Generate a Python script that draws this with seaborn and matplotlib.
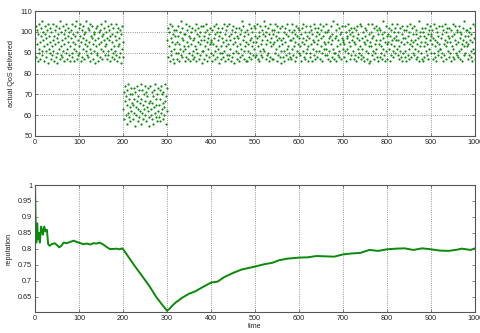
import numpy as np
import pandas as pd
import matplotlib
matplotlib.use("Agg")
import matplotlib.pyplot as plt
import seaborn as sns

# ---- data: actual QoS delivered per time step ----
qos_a = [
97,103,88,94,101,86,99,92,104,90,95,87,102,98,91,105,89,96,100,93,
86,99,103,91,88,97,94,101,85,104,92,98,90,95,102,87,100,93,89,96,
104,91,86,98,101,94,88,103,97,90,85,99,95,102,92,87,105,93,100,89,
96,88,103,91,99,86,94,101,97,90,104,92,87,98,95,102,89,100,93,86,
101,97,90,104,88,95,99,92,86,103,94,98,91,105,87,100,96,89,102,93,
90,98,104,86,95,101,88,97,92,103,99,87,94,100,91,96,105,89,93,102,
88,95,101,92,104,86,98,90,97,103,94,87,100,91,99,85,96,102,93,89,
103,90,97,86,100,94,88,101,95,104,92,98,87,99,91,96,102,89,93,105,
94,100,87,97,91,103,89,96,101,86,98,92,104,88,95,99,90,102,93,87,
98,91,104,89,96,100,86,93,102,88,97,94,101,90,85,99,92,103,95,88,
]
qos_b = [
63,71,58,67,74,60,69,56,72,65,61,75,59,68,64,70,57,73,62,66,
70,58,65,73,61,68,55,71,64,60,74,67,57,63,69,72,59,66,62,75,
56,68,72,61,65,58,70,63,74,67,60,57,71,64,69,62,73,59,66,55,
67,74,60,63,71,58,66,69,56,72,64,61,75,68,59,65,70,57,73,62,
59,65,72,68,57,74,61,70,63,66,58,71,64,60,75,67,56,69,62,73,
]
qos_c = [
96,102,88,93,100,86,104,91,97,89,103,95,87,99,92,101,85,98,94,90,
101,87,95,103,90,98,86,94,100,92,105,89,97,102,88,96,91,99,93,86,
92,99,104,88,95,101,87,93,98,90,103,86,97,94,100,89,102,91,96,87,
88,97,93,101,86,104,92,99,90,95,102,87,98,94,100,89,96,103,91,85,
103,91,98,87,96,100,93,89,104,95,86,101,92,97,88,99,94,102,90,96,
95,86,101,94,89,103,97,91,99,87,104,93,100,88,96,92,102,85,98,90,
100,93,87,97,102,90,95,88,104,91,99,86,96,101,93,89,103,94,87,98,
89,104,96,92,86,99,101,88,94,103,90,97,85,100,95,91,102,87,98,93,
97,90,102,86,99,94,88,101,92,105,89,96,103,91,87,98,93,100,86,95,
86,101,94,99,91,88,104,96,90,97,102,87,93,100,89,95,103,92,98,88,
102,95,89,104,97,87,93,100,86,98,91,103,94,89,101,96,88,99,92,105,
91,98,103,87,94,100,89,96,102,90,86,99,95,104,88,93,97,101,87,94,
99,87,95,101,90,104,92,98,86,96,103,89,100,93,97,88,102,91,85,96,
94,103,88,97,100,91,86,102,95,89,99,104,92,87,98,93,101,90,96,88,
87,96,100,92,104,89,97,93,101,86,95,99,88,103,91,98,94,102,90,97,
101,89,93,99,86,102,95,91,97,104,88,94,100,87,96,103,90,98,92,86,
93,100,97,88,103,90,94,101,86,99,92,96,104,89,95,87,102,91,98,100,
88,94,102,96,91,99,87,104,93,97,101,86,90,98,103,92,95,89,100,94,
104,92,89,100,95,87,101,97,91,98,86,103,94,99,88,96,92,105,90,87,
90,97,101,86,98,93,104,89,96,102,91,88,99,94,100,87,97,103,92,95,
96,88,94,103,91,100,86,98,92,97,104,90,95,101,87,99,93,89,102,96,
100,91,98,87,95,102,89,94,101,86,97,103,92,88,99,96,90,104,93,87,
89,103,92,97,100,88,95,86,102,94,98,91,101,87,96,104,90,93,99,85,
95,86,100,93,89,104,97,91,98,102,87,94,90,103,92,96,88,101,86,99,
102,94,88,96,101,90,93,99,87,105,92,97,89,100,95,86,103,91,98,94,
87,99,95,102,92,86,98,101,94,89,104,96,91,88,97,100,93,102,90,96,
98,92,104,89,96,100,87,93,102,91,95,88,99,86,103,97,90,94,101,88,
91,97,86,101,95,103,89,98,92,87,100,94,104,96,88,93,102,90,99,95,
103,89,96,92,99,87,101,94,88,97,91,105,86,100,93,98,90,95,102,87,
86,100,93,98,88,95,102,91,97,104,89,94,99,87,101,92,96,103,90,98,
99,94,101,87,97,90,104,93,88,96,102,86,95,100,91,98,89,103,94,92,
92,88,97,103,90,99,86,101,94,89,96,104,93,87,100,95,102,91,98,88,
97,102,90,95,86,101,93,98,104,88,92,99,87,96,103,90,94,100,89,101,
88,95,103,91,100,87,97,92,99,94,86,102,96,89,105,93,98,90,101,95,
101,93,87,98,94,100,89,96,102,91,88,99,95,86,104,92,97,90,103,87,
]
qos_time_a = list(range(1, 1 + len(qos_a)))
qos_time_b = list(range(201, 201 + len(qos_b)))
qos_time_c = list(range(301, 301 + len(qos_c)))

# ---- data: reputation over time ----
rep_time = [0, 2, 3, 5, 7, 9, 11, 14, 16, 18, 21, 24, 27, 30, 33, 38, 45, 50, 55, 60,
            65, 72, 80, 88, 95, 103, 110, 118, 125, 133, 140, 147, 155, 162, 170, 178,
            185, 192, 198, 200, 210, 225, 240, 250, 260, 275, 290, 300, 305, 310, 320,
            335, 350, 365, 380, 400, 415, 430, 450, 470, 490, 500, 520, 540, 555, 575,
            600, 620, 640, 660, 680, 700, 720, 740, 760, 780, 800, 820, 840, 860, 880,
            900, 920, 940, 960, 970, 990, 1000]
rep_value = [1.0, 0.84, 0.82, 0.88, 0.83, 0.85, 0.82, 0.87, 0.86, 0.845, 0.87, 0.855,
             0.86, 0.815, 0.81, 0.815, 0.818, 0.812, 0.805, 0.81, 0.82, 0.818, 0.822,
             0.826, 0.822, 0.818, 0.815, 0.817, 0.814, 0.818, 0.817, 0.82, 0.814, 0.807,
             0.80, 0.80, 0.801, 0.799, 0.802, 0.80, 0.78, 0.75, 0.722, 0.703, 0.684,
             0.651, 0.624, 0.607, 0.612, 0.62, 0.633, 0.648, 0.66, 0.668, 0.68, 0.695,
             0.698, 0.712, 0.725, 0.736, 0.742, 0.745, 0.752, 0.757, 0.765, 0.77, 0.773,
             0.774, 0.778, 0.777, 0.776, 0.783, 0.786, 0.788, 0.797, 0.794, 0.799,
             0.801, 0.802, 0.797, 0.802, 0.799, 0.795, 0.794, 0.798, 0.801, 0.797, 0.802]

x_ticks = [0, 100, 200, 300, 400, 500, 600, 700, 800, 900, 1000]
qos_ticks = [50, 60, 70, 80, 90, 100, 110]
rep_ticks = [0.65, 0.7, 0.75, 0.8, 0.85, 0.9, 0.95, 1]
rep_tick_labels = ["0.65", "0.7", "0.75", "0.8", "0.85", "0.9", "0.95", "1"]

qos_df = pd.DataFrame({
    "time": qos_time_a + qos_time_b + qos_time_c,
    "qos": qos_a + qos_b + qos_c,
})
rep_df = pd.DataFrame({"time": rep_time, "reputation": rep_value})

sns.set_style("white")
plt.rcParams["font.family"] = ["Liberation Sans", "DejaVu Sans"]
FS = 5.2
GREEN = "#0a8a0a"
EDGE = "#555555"

fig = plt.figure(figsize=(4.81, 3.33), dpi=100)
ax1 = fig.add_axes([35 / 481, 1 - 136 / 333, 440 / 481, 125 / 333])
ax2 = fig.add_axes([35 / 481, 1 - 312 / 333, 440 / 481, 127 / 333])

sns.scatterplot(data=qos_df, x="time", y="qos", ax=ax1, color=GREEN, s=2.5,
                linewidth=0, marker="o", legend=False)
sns.lineplot(data=rep_df, x="time", y="reputation", ax=ax2, color=GREEN,
             linewidth=1.4, legend=False)

for ax in (ax1, ax2):
    ax.set_xlim(0, 1000)
    ax.set_xticks(x_ticks)
    ax.tick_params(direction="in", length=2.5, width=0.5, colors=EDGE,
                   labelcolor="#222222", labelsize=FS, pad=2,
                   top=True, right=True, bottom=True, left=True)
    for sp in ax.spines.values():
        sp.set_visible(True)
        sp.set_color(EDGE)
        sp.set_linewidth(0.8)

ax1.set_ylim(50, 110)
ax1.set_yticks(qos_ticks)
ax1.grid(True, linestyle=":", color="#777777", linewidth=0.6)
ax1.set_xlabel("")
ax1.set_ylabel("actual QoS delivered", fontsize=FS, labelpad=4)

ax2.set_ylim(0.603, 1.0)
ax2.set_yticks(rep_ticks)
ax2.set_yticklabels(rep_tick_labels)
ax2.grid(True, axis="x", linestyle=":", color="#777777", linewidth=0.6)
ax2.grid(False, axis="y")
ax2.set_xlabel("time", fontsize=FS, labelpad=1)
ax2.set_ylabel("reputation", fontsize=FS, labelpad=4)

fig.savefig("out.png", dpi=100)
